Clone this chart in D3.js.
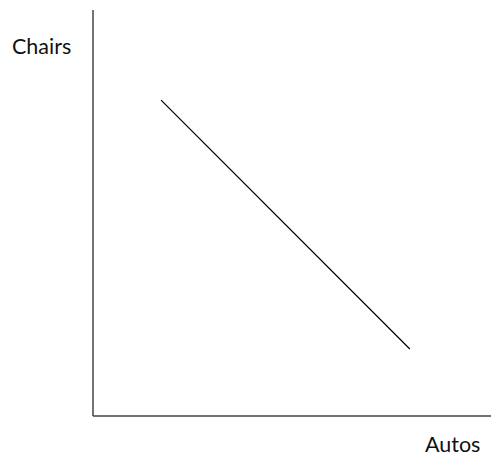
<!DOCTYPE html>
<html>
<head>
<meta charset="utf-8">
<script src="https://cdn.jsdelivr.net/npm/d3@7"></script>
<style>
  body { margin: 0; background: #fff; }
  text { font-family: Lato, "Open Sans", sans-serif; font-size: 21.5px; fill: #111; }
</style>
</head>
<body>
<svg id="chart" width="491" height="456"></svg>
<script>
// production possibilities frontier
const autos = [1.71, 7.96];
const chairs = [7.78, 1.65];
const axisLabels = ["Autos", "Chairs"];

const width = 491;
const height = 456;

const x = d3.scaleLinear().domain([0, 10]).range([93, 491]);
const y = d3.scaleLinear().domain([0, 10]).range([416, 10]);

const svg = d3.select("#chart");

// axes: just the two lines, no ticks
svg.append("line")
  .attr("x1", x(0)).attr("x2", x(0))
  .attr("y1", y(0)).attr("y2", y(10))
  .attr("stroke", "#444").attr("stroke-width", 1.5);
svg.append("line")
  .attr("x1", x(0)).attr("x2", x(10))
  .attr("y1", y(0)).attr("y2", y(0))
  .attr("stroke", "#444").attr("stroke-width", 1.5);

const line = d3.line()
  .x(d => x(d[0]))
  .y(d => y(d[1]));

svg.append("path")
  .datum(d3.zip(autos, chairs))
  .attr("d", line)
  .attr("fill", "none")
  .attr("stroke", "#000")
  .attr("stroke-width", 1.2);

svg.append("text")
  .attr("x", 12).attr("y", 54)
  .text(axisLabels[1]);

svg.append("text")
  .attr("x", 425).attr("y", 452)
  .text(axisLabels[0]);
</script>
</body>
</html>
